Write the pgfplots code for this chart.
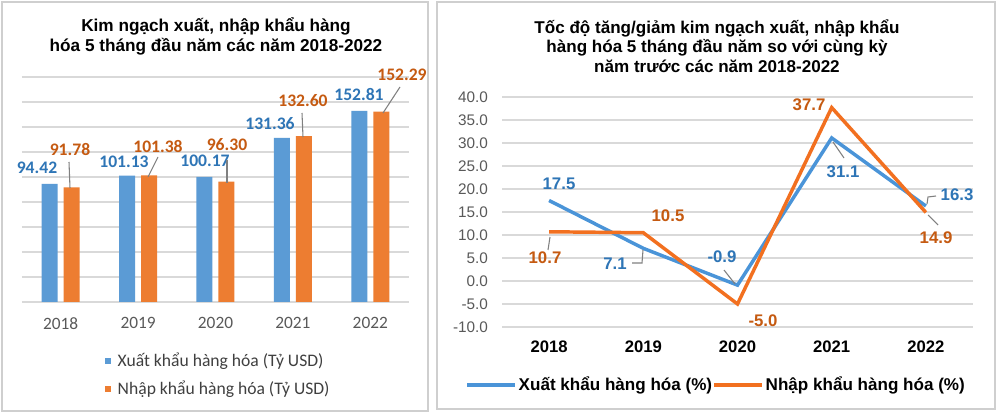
\documentclass[border=0pt]{standalone}
\usepackage{fontspec}
\setmainfont{Liberation Sans}
\newfontfamily\calib{Carlito}
\usepackage{pgfplots}
\pgfplotsset{compat=1.18}
\definecolor{bblue}{HTML}{5B9BD5}
\definecolor{borange}{HTML}{ED7D31}
\definecolor{lblue}{HTML}{2E75B6}
\definecolor{lorange}{HTML}{C55A11}
\definecolor{lineblue}{HTML}{4A94D8}
\definecolor{lineorange}{HTML}{F27020}
\definecolor{gridc}{HTML}{D9D9D9}
\definecolor{tickc}{HTML}{595959}
\definecolor{framec}{HTML}{CFCFCF}
\definecolor{leadc}{HTML}{808080}
\definecolor{legc}{HTML}{404040}

\begin{document}
\begin{tikzpicture}
\begin{scope}[x=0.75pt,y=-0.75pt]
\useasboundingbox (0,0) rectangle (1000,420);
\fill[white] (0,0) rectangle (1000,420);
\draw[framec, line width=0.9pt] (2,2) rectangle (428,411);
\draw[framec, line width=0.9pt] (437,2) rectangle (995,409);
\end{scope}

% ---------- left: bars ----------
\begin{axis}[
 at={(16.5pt,-226.5pt)}, anchor=south west,
 scale only axis, width=290.25pt, height=168.75pt,
 xmin=-0.5, xmax=4.5, ymin=0, ymax=180,
 ytick={0,20,...,180}, yticklabels={},
 ymajorgrids, major grid style={gridc, line width=1.1pt},
 axis line style={draw=none}, tick style={draw=none},
 major tick length=0pt,
 xtick={0,...,4}, xticklabels={2018,2019,2020,2021,2022},
 xticklabel style={font=\calib\fontsize{13}{14}\selectfont, text=tickc, yshift=-8pt},
 clip=false,
]
\addplot[ybar, bar width=12pt, bar shift=-8.25pt, fill=bblue, draw=none] coordinates {(0,94.42) (1,101.13) (2,100.17) (3,131.36) (4,152.81)};
\addplot[ybar, bar width=12pt, bar shift=8.25pt, fill=borange, draw=none] coordinates {(0,91.78) (1,101.38) (2,96.30) (3,132.60) (4,152.29)};
\end{axis}

% ---------- right: lines ----------
\begin{axis}[
 at={(376.5pt,-245.25pt)}, anchor=south west,
 scale only axis, width=353.25pt, height=172.5pt,
 xmin=-0.5, xmax=4.5, ymin=-10, ymax=40,
 ytick={-10,-5,...,40},
 ymajorgrids, major grid style={gridc, line width=1.1pt},
 axis line style={draw=none}, tick style={draw=none},
 major tick length=0pt,
 yticklabel style={/pgf/number format/fixed, /pgf/number format/fixed zerofill, /pgf/number format/precision=1, /pgf/number format/assume math mode=true, font=\fontsize{11.5}{13}\selectfont, text=tickc, xshift=-7pt},
 xtick={0,...,4}, xticklabels={2018,2019,2020,2021,2022},
 xticklabel style={font=\bfseries\fontsize{12.5}{14}\selectfont, text=black, yshift=-6.5pt},
 clip=false,
]
\addplot[lineblue, line width=2.6pt] coordinates {(0,17.5) (1,7.1) (2,-0.9) (3,31.1) (4,16.3)};
\addplot[lineorange, line width=2.6pt] coordinates {(0,10.7) (1,10.5) (2,-5.0) (3,37.7) (4,14.9)};
\end{axis}

\begin{scope}[x=0.75pt,y=-0.75pt]
% titles
\node[align=center, font=\bfseries\fontsize{12.9}{15}\selectfont] at (216,36) {Kim ngạch xuất, nhập khẩu hàng\\hóa 5 tháng đầu năm các năm 2018-2022};
\node[align=center, font=\bfseries\fontsize{12.8}{14.6}\selectfont] at (717,46) {Tốc độ tăng/giảm kim ngạch xuất, nhập khẩu\\hàng hóa 5 tháng đầu năm so với cùng kỳ\\năm trước các năm 2018-2022};

% left labels
\begin{scope}[font=\calib\bfseries\fontsize{13.2}{14}\selectfont, inner sep=0pt]
\node[text=lblue] at (37,168) {94.42};
\node[text=lorange] at (70,149) {91.78};
\node[text=lblue] at (124,162) {101.13};
\node[text=lorange] at (158,146) {101.38};
\node[text=lblue] at (205,161) {100.17};
\node[text=lorange] at (227,145) {96.30};
\node[text=lblue] at (270,124) {131.36};
\node[text=lorange] at (303,101) {132.60};
\node[text=lblue] at (359,94) {152.81};
\node[text=lorange] at (402,75) {152.29};
\end{scope}
\begin{scope}[leadc, line width=0.8pt]
\draw (69,162) -- (70,188);
\draw (158,157) -- (148,177);
\draw (227,160) -- (227,183);
\draw (302,113) -- (303,137);
\draw (400,87) -- (383,113);
\end{scope}

% left legend
\fill[bblue] (105,358) rectangle (111,364);
\fill[borange] (105,386) rectangle (111,392);
\node[anchor=west, text=legc, font=\calib\fontsize{13.2}{14}\selectfont] at (113,361) {Xuất khẩu hàng hóa (Tỷ USD)};
\node[anchor=west, text=legc, font=\calib\fontsize{13.2}{14}\selectfont] at (113,389) {Nhập khẩu hàng hóa (Tỷ USD)};

% right labels
\begin{scope}[font=\bfseries\fontsize{12.6}{14}\selectfont, inner sep=0pt]
\node[text=lblue] at (559,184) {17.5};
\node[text=lorange] at (545,258) {10.7};
\node[text=lblue] at (615,264) {7.1};
\node[text=lorange] at (668,216) {10.5};
\node[text=lblue] at (722,257) {-0.9};
\node[text=lorange] at (763,321) {-5.0};
\node[text=lorange] at (809,105) {37.7};
\node[text=lblue] at (843,172) {31.1};
\node[text=lblue] at (957,195) {16.3};
\node[text=lorange] at (936,238) {14.9};
\end{scope}
\begin{scope}[leadc, line width=0.8pt]
\draw (550,237) -- (548,250);
\draw (632,263) -- (642,263) -- (643,250);
\draw (724,270) -- (735,284);
\draw (833,142) -- (844,158);
\draw (927,204) -- (928,197) -- (936,196);
\draw (928,215) -- (938,225);
\end{scope}

% right legend
\draw[lineblue, line width=2.6pt] (467,385) -- (515,385);
\node[anchor=west, font=\bfseries\fontsize{12.8}{14}\selectfont] at (514,385) {Xuất khẩu hàng hóa (\%)};
\draw[lineorange, line width=2.6pt] (714,385) -- (762,385);
\node[anchor=west, font=\bfseries\fontsize{12.8}{14}\selectfont] at (761,385) {Nhập khẩu hàng hóa (\%)};
\end{scope}
\end{tikzpicture}
\end{document}
